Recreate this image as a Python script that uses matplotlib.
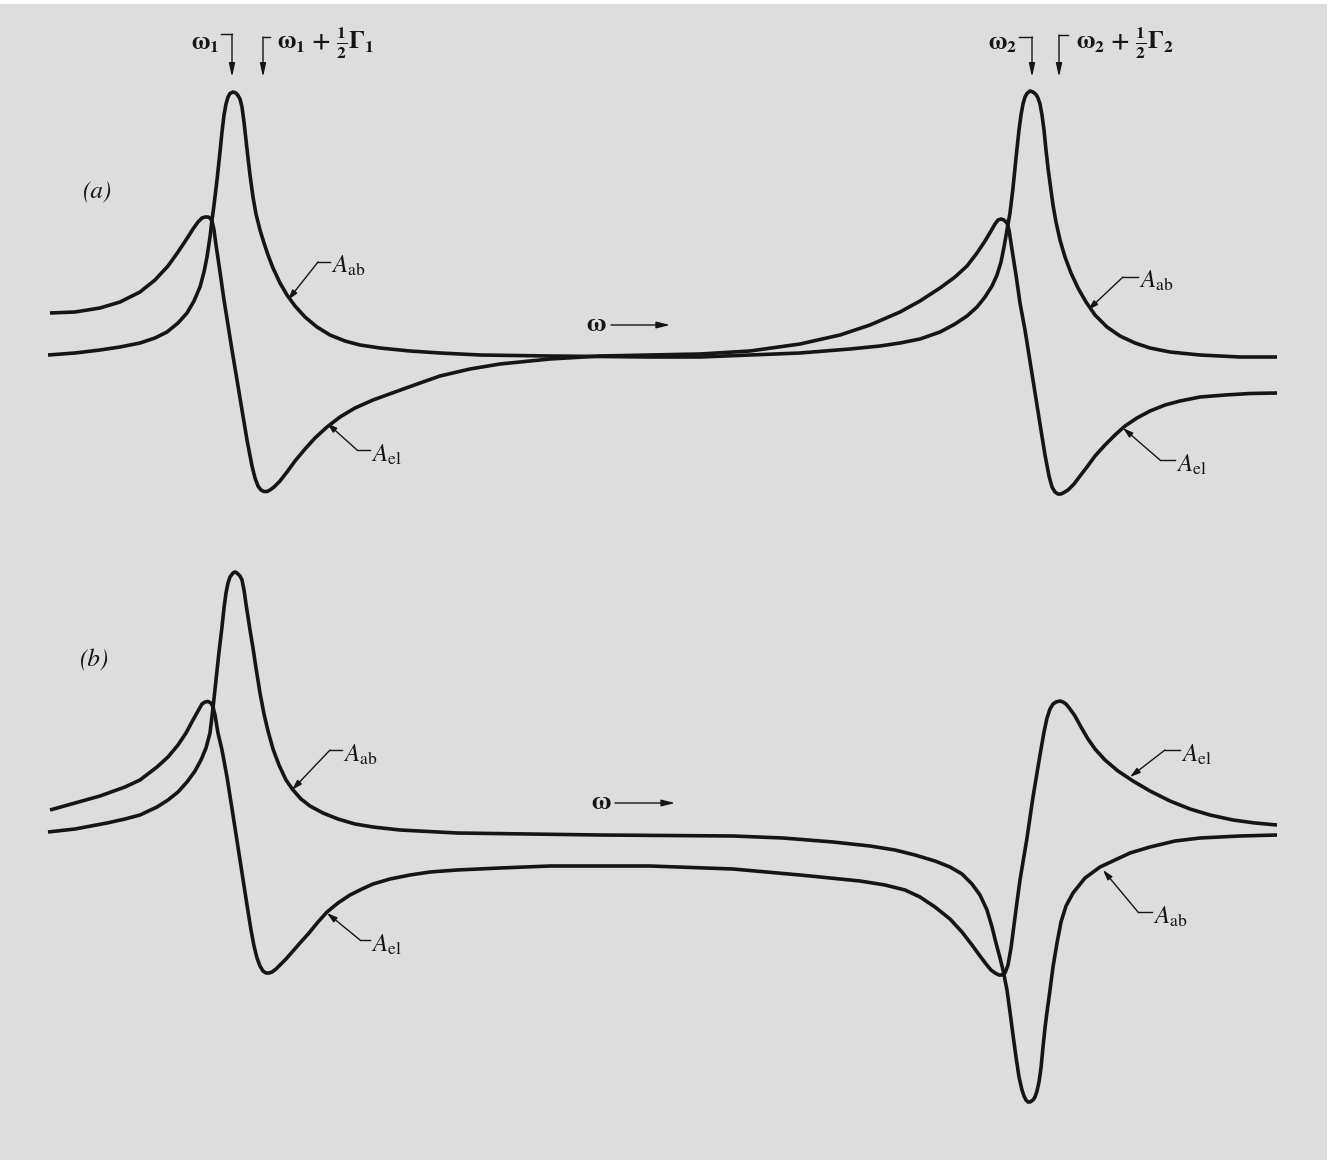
import matplotlib
matplotlib.use("Agg")
import matplotlib.pyplot as plt
from matplotlib.patches import Rectangle

plt.rcParams['mathtext.fontset'] = 'stix'
plt.rcParams['font.family'] = ['STIXGeneral', 'DejaVu Serif']

# ---------------- data (x = frequency position, y = amplitude, pixel-like units) ----------------
# Panel (a): absorption curve A_ab
a_ab_points = [
    (48, 355), (75, 353), (100, 350), (120, 347), (140, 343), (155, 338), (167, 332), (178, 323), (187, 313),
    (194, 301), (200, 287), (204, 272), (207, 257), (210, 237), (212, 220), (214, 205), (217, 180), (220, 152),
    (222, 132), (224, 115), (226, 104), (228, 97), (230, 93.5), (233, 92), (236, 93), (238, 95.5), (240, 99),
    (242, 107), (244, 122), (246, 140), (248, 158), (250, 175), (253, 197), (256, 214), (260, 230), (264, 243),
    (268, 255), (273, 268), (280, 283), (287, 295), (295, 306), (305, 317), (317, 327), (330, 335), (345, 341),
    (360, 345), (380, 348), (410, 351), (440, 353), (480, 355), (550, 356), (650, 357), (700, 357), (750, 355),
    (800, 353), (850, 349), (880, 346), (900, 343), (920, 339), (940, 332), (955, 324), (967, 316), (977, 307),
    (985, 297), (992, 286), (997, 275), (1001, 262), (1004, 247), (1007, 230), (1010, 213), (1013, 188),
    (1016, 158), (1019, 130), (1021, 115), (1023, 104), (1025, 97), (1027, 93.5), (1030, 91), (1033, 92),
    (1036, 94.5), (1038, 98), (1040, 104), (1042, 115), (1044, 130), (1046, 150), (1048, 168), (1050, 183),
    (1053, 205), (1056, 222), (1060, 240), (1065, 257), (1071, 273), (1078, 288), (1086, 302), (1095, 315),
    (1107, 327), (1120, 336), (1135, 343), (1150, 348), (1170, 352), (1200, 355), (1240, 357), (1277, 357),
]

# Panel (a): dispersion curve A_el
a_el_points = [
    (50, 313), (75, 312), (100, 308), (120, 302), (140, 292), (155, 280), (168, 266), (178, 252), (186, 240),
    (193, 229), (198, 222), (202, 218), (205, 217), (208, 217), (210, 218), (212, 221), (214, 230), (216, 245),
    (219, 265), (224, 300), (232, 350), (240, 398), (247, 440), (252, 466), (255, 478), (258, 486), (261, 490),
    (264, 491.5), (267, 491.5), (270, 490), (274, 487), (280, 481), (287, 472), (295, 461), (305, 449),
    (315, 438), (327, 427), (340, 417), (355, 408), (373, 400), (395, 392), (420, 383), (440, 376), (470, 369),
    (500, 364), (550, 359), (600, 356), (650, 355), (700, 354), (750, 351), (800, 344), (840, 335), (870, 325),
    (900, 312), (920, 301), (940, 288), (955, 277), (967, 266), (977, 253), (985, 241), (991, 231), (995, 224),
    (998, 220), (1001, 219), (1004, 220), (1007, 223), (1009, 230), (1011, 243), (1013, 256), (1016, 275),
    (1020, 303), (1025, 330), (1033, 380), (1040, 424), (1045, 455), (1049, 476), (1052, 487), (1055, 492),
    (1058, 494), (1061, 494), (1064, 492.5), (1068, 490), (1074, 484), (1080, 476), (1087, 467), (1095, 456),
    (1105, 445), (1115, 435), (1125, 426), (1137, 418), (1150, 411), (1165, 405), (1180, 401), (1200, 397),
    (1225, 395), (1250, 393.5), (1277, 393),
]

# Panel (b): absorption curve A_ab
b_ab_points = [
    (48, 832), (75, 829), (107, 823), (125, 819), (140, 815), (157, 807), (168, 800), (178, 792), (187, 782),
    (195, 771), (201, 760), (206, 748), (210, 733), (213, 708), (216, 680), (219, 652), (222, 627), (224, 608),
    (226, 593), (228, 583), (230, 577), (233, 573), (235, 572), (237, 573), (240, 576), (242, 580), (244, 590),
    (246, 604), (248, 617), (250, 630), (253, 648), (256, 668), (260, 693), (264, 714), (268, 731), (273, 749),
    (279, 765), (286, 780), (293, 790), (301, 799), (310, 806), (323, 813), (338, 819), (355, 824), (373, 827),
    (400, 830), (457, 833), (600, 835), (733, 836), (783, 838), (833, 842), (870, 846), (895, 850), (915, 855),
    (935, 861), (950, 867), (962, 874), (972, 884), (980, 895), (987, 910), (992, 927), (996, 943), (1000, 958),
    (1003, 970), (1007, 990), (1010, 1012), (1013, 1035), (1016, 1057), (1019, 1077), (1022, 1090), (1024, 1096),
    (1026, 1100), (1028, 1102), (1030, 1102), (1033, 1100), (1035, 1097), (1037, 1091), (1039, 1082),
    (1041, 1068), (1043, 1047), (1045, 1028), (1047, 1012), (1050, 990), (1053, 967), (1057, 943), (1061, 922),
    (1066, 906), (1073, 893), (1085, 878), (1100, 867), (1115, 860), (1130, 853), (1150, 847), (1175, 841),
    (1200, 838), (1240, 836), (1277, 835),
]

# Panel (b): dispersion curve A_el
b_el_points = [
    (50, 810), (75, 803), (100, 796), (125, 787), (140, 780), (157, 767), (168, 757), (178, 745), (186, 733),
    (193, 720), (198, 711), (202, 704), (205, 702), (208, 701.5), (211, 703), (213, 707), (215, 715), (218, 733),
    (222, 750), (227, 777), (233, 815), (240, 860), (247, 905), (251, 930), (254, 946), (257, 958), (260, 966),
    (263, 971), (266, 973), (269, 973), (272, 972), (276, 969), (280, 965), (286, 959), (293, 951), (300, 943),
    (309, 933), (318, 922), (327, 912), (338, 903), (350, 895), (362, 889), (373, 884), (390, 879), (410, 875),
    (430, 872), (457, 870), (500, 868), (550, 866), (650, 866), (733, 869), (800, 875), (830, 878), (860, 881),
    (885, 885), (905, 890), (920, 897), (935, 907), (950, 919), (962, 932), (972, 945), (980, 956), (986, 964),
    (991, 970), (995, 973), (999, 975), (1002, 975), (1005, 973), (1008, 965), (1011, 948), (1014, 925),
    (1017, 902), (1020, 880), (1027, 838), (1033, 797), (1040, 755), (1044, 732), (1047, 718), (1050, 709),
    (1053, 704), (1056, 702), (1060, 701), (1063, 702), (1066, 704), (1070, 709), (1075, 716), (1081, 727),
    (1088, 739), (1095, 749), (1105, 760), (1118, 771), (1133, 781), (1150, 791), (1170, 801), (1190, 809),
    (1210, 815), (1233, 820), (1255, 823), (1277, 825),
]

panel_labels = ["(a)", "(b)"]
curve_labels = [r"$A_{\rm ab}$", r"$A_{\rm el}$"]
top_labels = [r"$\mathbf{\omega_1}$", r"$\mathbf{\omega_1}\ \mathbf{+}\ \mathbf{\frac{1}{2}\Gamma_1}$",
              r"$\mathbf{\omega_2}$", r"$\mathbf{\omega_2}\ \mathbf{+}\ \mathbf{\frac{1}{2}\Gamma_2}$"]

# ---------------- figure ----------------
W, H = 1332, 1160
fig = plt.figure(figsize=(W / 100, H / 100), dpi=100, facecolor="white")
ax = fig.add_axes([0, 0, 1, 1])
ax.set_xlim(0, W)
ax.set_ylim(H, 0)
ax.set_axis_off()
ax.add_patch(Rectangle((0, 4), 1327, H - 4, facecolor="#dddddd", edgecolor="none", zorder=0))

ink = "#151515"
lw = 2.6
for pts in [a_ab_points, a_el_points, b_ab_points, b_el_points]:
    xs = [p[0] for p in pts]
    ys = [p[1] for p in pts]
    ax.plot(xs, ys, color=ink, lw=lw, solid_capstyle="butt", solid_joinstyle="round", zorder=3)

# panel labels
ax.text(98, 192, panel_labels[0], fontsize=18, style="italic", ha="center", va="center", color=ink)
ax.text(95, 660, panel_labels[1], fontsize=18, style="italic", ha="center", va="center", color=ink)


def leader(corner, tip, hend, text_xy, label):
    ax.annotate("", xy=tip, xytext=corner,
                arrowprops=dict(arrowstyle="-|>,head_length=0.6,head_width=0.18", color=ink, lw=1.0,
                                shrinkA=0, shrinkB=0), zorder=4)
    ax.plot([corner[0], hend], [corner[1], corner[1]], color=ink, lw=1.0, zorder=4)
    ax.text(text_xy[0], text_xy[1], label, fontsize=18, ha="left", va="center", color=ink)


# curve labels, panel (a)
leader((318, 262), (288, 300), 330, (331, 267), curve_labels[0])
leader((357, 450), (327, 423), 370, (371, 456), curve_labels[1])
leader((1123, 277), (1088, 310), 1138, (1139, 282), curve_labels[0])
leader((1160, 460), (1123, 428), 1175, (1176, 466), curve_labels[1])
# curve labels, panel (b)
leader((330, 750), (292, 790), 342, (343, 756), curve_labels[0])
leader((360, 940), (327, 913), 370, (371, 946), curve_labels[1])
leader((1165, 750), (1130, 777), 1180, (1181, 756), curve_labels[1])
leader((1138, 912), (1103, 870), 1152, (1153, 918), curve_labels[0])

# omega arrows
for (tx, ty, x0, x1) in [(596, 325, 611, 670), (601, 803, 615, 675)]:
    ax.text(tx, ty, r"$\mathbf{\omega}$", fontsize=19, ha="center", va="center", color=ink)
    ax.annotate("", xy=(x1, ty), xytext=(x0, ty),
                arrowprops=dict(arrowstyle="-|>,head_length=0.8,head_width=0.2", color=ink, lw=1.0,
                                shrinkA=0, shrinkB=0))


# top resonance markers
def top_marker(xv, ytop, hx0, hx1):
    ax.plot([hx0, hx1], [ytop, ytop], color=ink, lw=1.0)
    ax.annotate("", xy=(xv, 77), xytext=(xv, ytop),
                arrowprops=dict(arrowstyle="-|>,head_length=0.8,head_width=0.18", color=ink, lw=1.0,
                                shrinkA=0, shrinkB=0))


top_marker(232, 34, 221, 232)
top_marker(263, 37, 263, 270)
top_marker(1032, 37, 1019, 1032)
top_marker(1059, 35, 1059, 1068)
ax.text(219, 43, top_labels[0], fontsize=18, ha="right", va="center", color=ink)
ax.text(277, 43, top_labels[1], fontsize=18, ha="left", va="center", color=ink)
ax.text(1017, 43, top_labels[2], fontsize=18, ha="right", va="center", color=ink)
ax.text(1076, 43, top_labels[3], fontsize=18, ha="left", va="center", color=ink)

fig.savefig("out.png", dpi=100, facecolor="white")
